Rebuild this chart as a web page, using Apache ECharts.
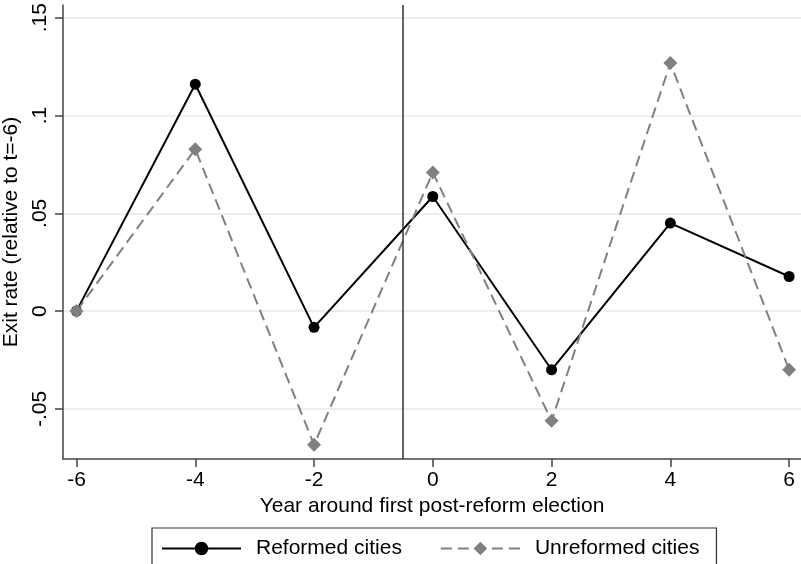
<!doctype html>
<html>
<head>
    <meta charset="utf-8">
    <title>Exit rate</title>
    <script type="text/javascript" src="https://cdn.jsdelivr.net/npm/echarts@6/dist/echarts.min.js"></script>
</head>
<body style="margin:0;padding:0">
    <div id="tb" style="width:801px;height:564px"></div>
    <script>
        // data
        var years = [-6, -4, -2, 0, 2, 4, 6];
        var reformed = [0, 0.116, -0.0083, 0.0586, -0.030, 0.045, 0.0177];
        var unreformed = [0, 0.0828, -0.0683, 0.0709, -0.0561, 0.1268, -0.030];
        var xTicks = [-6, -4, -2, 0, 2, 4, 6];
        var yTicks = [-0.05, 0, 0.05, 0.1, 0.15];
        var yTickLabels = ['-.05', '0', '.05', '.1', '.15'];
        var reformLine = -0.5;

        var pairs = function (ys) {
            return years.map(function (x, i) { return [x, ys[i]]; });
        };
        var yLabel = function (v) {
            for (var i = 0; i < yTicks.length; i++) {
                if (Math.abs(yTicks[i] - v) < 1e-9) return yTickLabels[i];
            }
            return '';
        };

        var font = 'Arial, "Liberation Sans", sans-serif';
        var chart = echarts.init(document.getElementById('tb'));
        chart.setOption({
            animation: false,
            backgroundColor: '#fff',
            grid: {
                left: 63,
                right: 0,
                top: 5,
                bottom: 105,
                containLabel: false,
                outerBoundsMode: 'none'
            },
            legend: {
                left: 152,
                top: 528,
                orient: 'horizontal',
                itemWidth: 79,
                itemHeight: 17,
                itemGap: 38,
                padding: [10, 17, 10, 9],
                borderColor: '#333',
                borderWidth: 1.2,
                textStyle: {
                    fontFamily: font,
                    fontSize: 21,
                    color: '#000',
                    padding: [0, 0, 0, 10]
                },
                data: ['Reformed cities', 'Unreformed cities']
            },
            xAxis: {
                type: 'value',
                min: -6.227,
                max: 6.2,
                name: 'Year around first post-reform election',
                nameLocation: 'middle',
                nameGap: 34,
                nameTextStyle: { fontFamily: font, fontSize: 21, color: '#000' },
                axisLine: { onZero: false, lineStyle: { color: '#444', width: 1.5 } },
                axisTick: {
                    customValues: xTicks,
                    length: 8,
                    lineStyle: { color: '#444', width: 1.5 }
                },
                axisLabel: {
                    customValues: xTicks,
                    margin: 11,
                    fontFamily: font,
                    fontSize: 21,
                    color: '#000'
                },
                splitLine: { show: false }
            },
            yAxis: {
                type: 'value',
                min: -0.0756,
                max: 0.1565,
                name: 'Exit rate (relative to t=-6)',
                nameLocation: 'middle',
                nameGap: 28,
                nameTextStyle: { fontFamily: font, fontSize: 21, color: '#000' },
                axisLine: { show: true, onZero: false, lineStyle: { color: '#444', width: 1.5 } },
                axisTick: {
                    show: true,
                    customValues: yTicks,
                    length: 8,
                    lineStyle: { color: '#444', width: 1.5 }
                },
                axisLabel: {
                    customValues: yTicks,
                    rotate: 90,
                    margin: 12,
                    fontFamily: font,
                    fontSize: 21,
                    color: '#000',
                    formatter: yLabel
                },
                splitLine: { show: true, lineStyle: { color: '#e8e8e8', width: 1.5 } }
            },
            series: [{
                name: 'Reformed cities',
                type: 'line',
                data: pairs(reformed),
                symbol: 'circle',
                symbolSize: 11,
                itemStyle: { color: '#000' },
                lineStyle: { color: '#000', width: 2 },
                markLine: {
                    silent: true,
                    symbol: 'none',
                    label: { show: false },
                    lineStyle: { color: '#333', width: 1.5, type: 'solid' },
                    data: [{ xAxis: reformLine }]
                }
            }, {
                name: 'Unreformed cities',
                type: 'line',
                data: pairs(unreformed),
                symbol: 'diamond',
                symbolSize: 14,
                itemStyle: { color: '#808080' },
                lineStyle: { color: '#808080', width: 2, type: [11, 6] }
            }]
        });
    </script>
</body>
</html>
